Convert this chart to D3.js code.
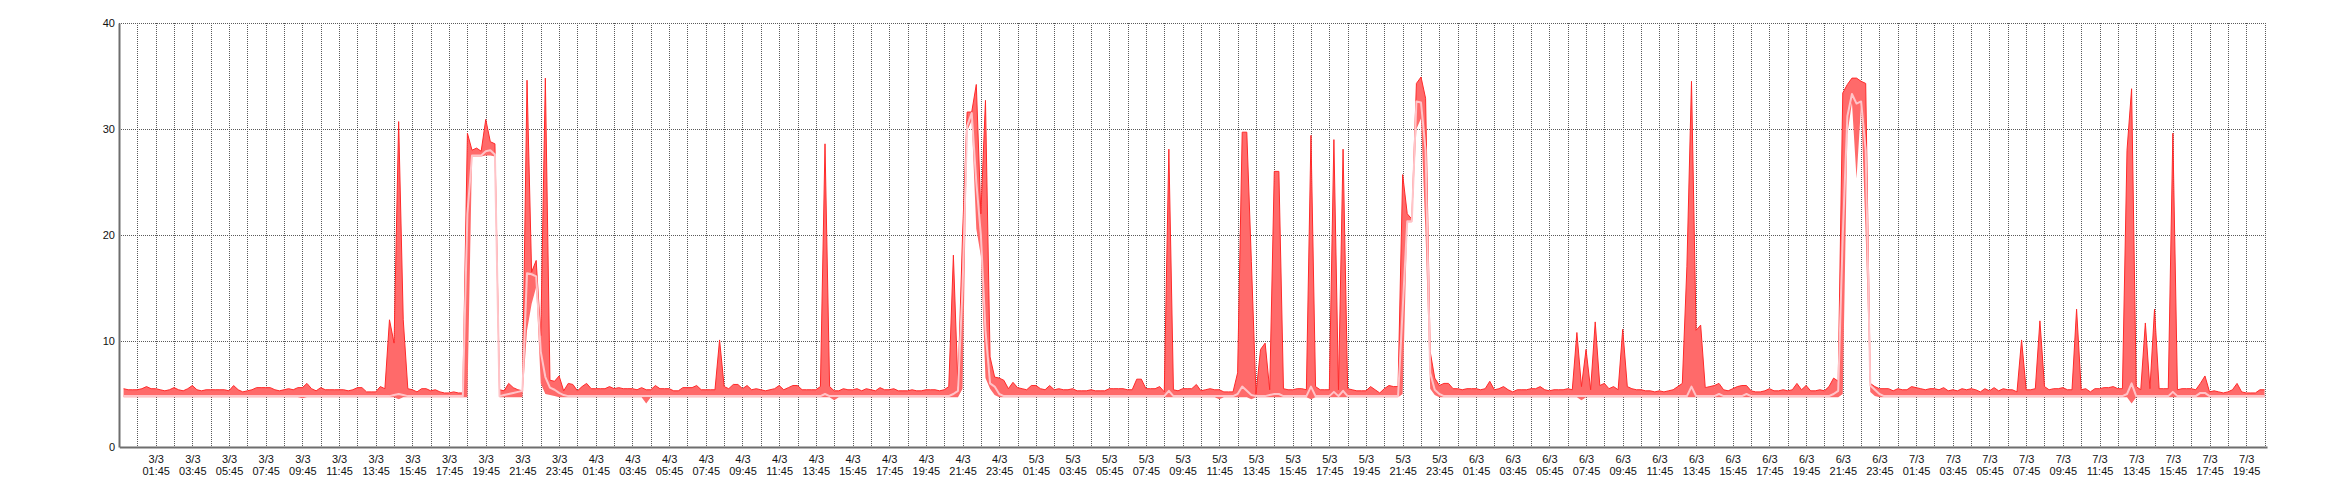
<!DOCTYPE html>
<html><head><meta charset="utf-8">
<script src="https://cdn.jsdelivr.net/npm/d3@7"></script>
<style>html,body{margin:0;padding:0;background:#fff;} svg{display:block;}</style>
</head><body><svg id="chart" width="2340" height="500"></svg>
<script>
// ---- data (15-minute samples starting 3/3 00:00) ----
const seriesStart = "2020-03-03T00:00";
const stepMinutes = 15;
const domainStart = "2020-03-02T23:46";
const domainEnd = "2020-03-07T20:53";
const yTicks = [0, 10, 20, 30, 40];

const maxVals = [
5.5,5.4,5.4,5.4,5.5,5.7,5.5,5.5,5.4,5.3,5.4,5.6,
5.4,5.3,5.5,5.8,5.4,5.3,5.4,5.4,5.4,5.4,5.4,5.3,
5.8,5.4,5.2,5.3,5.4,5.6,5.6,5.6,5.6,5.4,5.3,5.4,
5.5,5.4,5.6,5.6,6.0,5.5,5.3,5.6,5.4,5.4,5.4,5.4,
5.4,5.3,5.4,5.6,5.6,5.2,5.2,5.2,5.7,5.5,12.0,9.8,
30.7,12.0,5.5,5.4,5.2,5.5,5.5,5.3,5.4,5.2,5.1,5.1,
5.2,5.1,5.1,29.6,28.0,28.2,27.9,30.9,28.8,28.6,5.4,5.3,
6.0,5.6,5.4,5.3,34.6,16.5,17.6,10.5,34.8,6.3,6.2,6.7,
5.3,6.0,5.9,5.3,5.7,6.0,5.5,5.5,5.5,5.5,5.7,5.5,
5.6,5.5,5.5,5.5,5.4,5.6,5.4,5.4,5.8,5.5,5.5,5.5,
5.3,5.3,5.6,5.6,5.6,5.8,5.4,5.4,5.4,5.4,10.1,5.7,
5.5,5.9,5.9,5.5,5.8,5.4,5.5,5.4,5.3,5.4,5.5,5.8,
5.4,5.6,5.8,5.8,5.4,5.4,5.4,5.4,5.7,28.6,5.7,5.3,
5.3,5.5,5.4,5.4,5.5,5.3,5.5,5.4,5.3,5.6,5.4,5.4,
5.5,5.3,5.3,5.3,5.4,5.3,5.3,5.4,5.4,5.4,5.3,5.4,
5.7,18.1,5.7,20.0,31.6,31.6,34.2,22.0,32.7,8.5,6.6,6.5,
6.3,5.5,6.1,5.6,5.5,5.4,5.8,5.8,5.5,5.4,5.8,5.4,
5.5,5.4,5.4,5.5,5.3,5.3,5.3,5.4,5.3,5.3,5.3,5.5,
5.5,5.5,5.5,5.4,5.4,6.4,6.4,5.5,5.5,5.5,5.7,5.2,
28.1,5.4,5.3,5.5,5.5,5.5,5.9,5.3,5.4,5.5,5.4,5.4,
5.2,5.2,5.2,7.0,29.7,29.7,17.5,5.0,9.2,9.8,5.4,26.0,
26.0,5.5,5.4,5.4,5.5,5.5,5.4,29.4,5.7,5.4,5.4,5.4,
29.0,5.4,28.1,5.5,5.4,5.3,5.3,5.3,5.7,5.4,5.1,5.5,
5.8,5.7,5.7,25.7,22.0,21.5,34.3,34.9,32.9,9.0,6.5,5.8,
6.0,6.0,5.5,5.5,5.4,5.5,5.5,5.5,5.4,5.5,6.2,5.4,
5.5,5.7,5.4,5.2,5.4,5.4,5.4,5.5,5.5,5.7,5.4,5.3,
5.4,5.4,5.4,5.5,5.4,10.8,5.7,9.2,5.4,11.8,5.8,6.0,
5.5,5.7,5.4,11.1,5.7,5.5,5.4,5.4,5.3,5.3,5.2,5.3,
5.2,5.3,5.4,5.7,6.0,17.0,34.5,11.0,11.5,5.6,5.7,5.8,
6.0,5.4,5.3,5.5,5.7,5.8,5.8,5.3,5.2,5.2,5.3,5.5,
5.3,5.3,5.4,5.3,5.4,6.0,5.4,5.8,5.3,5.3,5.4,5.3,
5.7,6.5,6.2,33.4,34.2,34.8,34.8,34.5,34.3,6.0,5.7,5.5,
5.5,5.5,5.3,5.5,5.4,5.4,5.7,5.6,5.5,5.4,5.5,5.5,
5.4,5.6,5.3,5.4,5.3,5.5,5.4,5.5,5.4,5.2,5.5,5.3,
5.6,5.3,5.5,5.4,5.4,5.2,10.1,5.4,5.4,5.5,11.9,5.7,
5.4,5.5,5.5,5.6,5.4,5.4,13.0,5.4,5.5,5.2,5.5,5.5,
5.6,5.6,5.7,5.5,5.5,28.0,33.8,5.7,5.4,11.7,5.5,13.0,
5.5,5.5,5.5,29.6,5.4,5.5,5.5,5.5,5.4,6.0,6.7,5.2,
5.3,5.2,5.1,5.2,5.4,6.0,5.2,5.1,5.1,5.1,5.4,5.4
];

const minVals = [
4.7,4.7,4.7,4.7,4.7,4.7,4.7,4.7,4.7,4.7,4.7,4.7,
4.7,4.7,4.7,4.7,4.7,4.7,4.7,4.7,4.7,4.7,4.7,4.7,
4.7,4.7,4.7,4.7,4.7,4.7,4.7,4.7,4.7,4.7,4.7,4.7,
4.7,4.7,4.7,4.6,4.7,4.7,4.7,4.7,4.7,4.7,4.7,4.7,
4.7,4.7,4.7,4.7,4.7,4.7,4.7,4.7,4.7,4.7,4.7,4.7,
4.5,4.7,4.7,4.7,4.7,4.7,4.7,4.7,4.7,4.7,4.7,4.7,
4.7,4.7,4.7,4.7,27.4,27.4,27.4,27.5,27.5,27.4,4.7,4.7,
4.7,4.7,4.7,4.7,11.0,13.5,15.1,6.0,5.0,4.9,4.8,4.7,
4.7,4.7,4.7,4.7,4.7,4.7,4.7,4.7,4.7,4.7,4.7,4.7,
4.7,4.7,4.7,4.7,4.7,4.7,4.1,4.7,4.7,4.7,4.7,4.7,
4.7,4.7,4.7,4.7,4.7,4.7,4.7,4.7,4.7,4.7,4.7,4.7,
4.7,4.7,4.7,4.7,4.7,4.7,4.7,4.7,4.7,4.7,4.7,4.7,
4.7,4.7,4.7,4.7,4.7,4.7,4.7,4.7,4.7,4.7,4.7,4.4,
4.7,4.7,4.7,4.7,4.7,4.7,4.7,4.7,4.7,4.7,4.7,4.7,
4.7,4.7,4.7,4.7,4.7,4.7,4.7,4.7,4.7,4.7,4.7,4.7,
4.7,4.7,4.7,5.5,29.8,30.8,20.6,18.0,6.5,5.5,4.9,4.7,
4.7,4.7,4.7,4.7,4.7,4.7,4.7,4.7,4.7,4.7,4.7,4.7,
4.7,4.7,4.7,4.7,4.7,4.7,4.7,4.7,4.7,4.7,4.7,4.7,
4.7,4.7,4.7,4.7,4.7,4.7,4.7,4.7,4.7,4.7,4.7,4.7,
4.7,4.7,4.7,4.7,4.7,4.7,4.7,4.7,4.7,4.7,4.7,4.5,
4.7,4.7,4.7,4.7,4.7,4.7,4.5,4.7,4.7,4.7,4.7,4.7,
4.7,4.7,4.7,4.7,4.7,4.7,4.7,4.5,4.7,4.7,4.7,4.7,
4.7,4.7,4.7,4.7,4.7,4.7,4.7,4.7,4.7,4.7,4.7,4.7,
4.7,4.7,4.7,5.0,21.2,21.2,30.0,31.0,20.0,5.5,4.9,4.7,
4.7,4.7,4.7,4.7,4.7,4.7,4.7,4.7,4.7,4.7,4.7,4.7,
4.7,4.7,4.7,4.7,4.7,4.7,4.7,4.7,4.7,4.7,4.7,4.7,
4.7,4.7,4.7,4.7,4.7,4.7,4.4,4.7,4.7,4.7,4.7,4.7,
4.7,4.7,4.7,4.7,4.7,4.7,4.7,4.7,4.7,4.7,4.7,4.7,
4.7,4.7,4.7,4.7,4.7,4.7,4.7,4.7,4.7,4.7,4.7,4.7,
4.7,4.7,4.7,4.7,4.7,4.7,4.7,4.7,4.7,4.7,4.7,4.7,
4.7,4.7,4.7,4.7,4.7,4.7,4.7,4.7,4.7,4.7,4.7,4.7,
4.7,4.7,4.7,5.0,29.5,32.5,25.3,32.3,20.0,5.2,4.8,4.7,
4.7,4.7,4.7,4.7,4.7,4.7,4.7,4.7,4.7,4.7,4.7,4.7,
4.7,4.7,4.7,4.7,4.7,4.7,4.7,4.7,4.7,4.7,4.7,4.7,
4.7,4.7,4.7,4.7,4.7,4.7,4.7,4.7,4.7,4.7,4.7,4.7,
4.7,4.7,4.7,4.7,4.7,4.7,4.7,4.7,4.7,4.7,4.7,4.7,
4.7,4.7,4.7,4.7,4.7,4.7,4.1,4.7,4.7,4.7,4.7,4.7,
4.7,4.7,4.7,4.7,4.7,4.7,4.7,4.7,4.7,4.7,4.7,4.7,
4.7,4.7,4.7,4.7,4.7,4.7,4.7,4.7,4.7,4.7,4.7,4.7
];

const avgVals = [
4.8,4.8,4.8,4.8,4.8,4.8,4.8,4.8,4.8,4.8,4.8,4.8,
4.8,4.8,4.8,4.8,4.8,4.8,4.8,4.8,4.8,4.8,4.8,4.8,
4.8,4.8,4.8,4.8,4.8,4.8,4.8,4.8,4.8,4.8,4.8,4.8,
4.8,4.8,4.8,4.8,4.8,4.8,4.8,4.8,4.8,4.8,4.8,4.8,
4.8,4.8,4.8,4.8,4.8,4.8,4.8,4.8,4.8,4.8,4.8,4.9,
5.0,4.9,4.8,4.8,4.8,4.8,4.8,4.8,4.8,4.8,4.8,4.8,
4.8,4.8,4.8,22.0,27.5,27.5,27.5,27.9,28.0,27.6,4.8,4.9,
5.0,5.1,5.2,5.3,16.4,16.3,16.1,9.0,6.6,5.6,5.4,5.1,
4.9,4.8,4.8,4.8,4.8,4.8,4.8,4.8,4.8,4.8,4.8,4.8,
4.8,4.8,4.8,4.8,4.8,4.8,4.8,4.8,4.8,4.8,4.8,4.8,
4.8,4.8,4.8,4.8,4.8,4.8,4.8,4.8,4.8,4.8,4.8,4.8,
4.8,4.8,4.8,4.8,4.8,4.8,4.8,4.8,4.8,4.8,4.8,4.8,
4.8,4.8,4.8,4.8,4.8,4.8,4.8,4.8,4.8,5.0,4.8,4.8,
4.8,4.8,4.8,4.8,4.8,4.8,4.8,4.8,4.8,4.8,4.8,4.8,
4.8,4.8,4.8,4.8,4.8,4.8,4.8,4.8,4.8,4.8,4.8,4.8,
4.8,5.0,5.3,15.0,30.3,31.5,25.0,20.0,11.0,6.0,5.7,5.0,
4.8,4.8,4.8,4.8,4.8,4.8,4.8,4.8,4.8,4.8,4.8,4.8,
4.8,4.8,4.8,4.8,4.8,4.8,4.8,4.8,4.8,4.8,4.8,4.8,
4.8,4.8,4.8,4.8,4.8,4.8,4.8,4.8,4.8,4.8,4.8,4.8,
5.3,4.8,4.8,4.8,4.8,4.8,4.8,4.8,4.8,4.8,4.8,4.8,
4.8,4.8,4.8,5.0,5.7,5.3,4.9,4.8,4.8,4.8,4.9,5.0,
5.0,4.8,4.8,4.8,4.8,4.8,4.8,5.7,4.8,4.8,4.8,4.8,
5.2,4.8,5.3,4.8,4.8,4.8,4.8,4.8,4.8,4.8,4.8,4.8,
4.8,4.8,4.8,13.0,21.3,21.3,32.6,32.5,28.0,7.0,5.4,5.0,
4.8,4.8,4.8,4.8,4.8,4.8,4.8,4.8,4.8,4.8,4.8,4.8,
4.8,4.8,4.8,4.8,4.8,4.8,4.8,4.8,4.8,4.8,4.8,4.8,
4.8,4.8,4.8,4.8,4.8,4.8,4.8,4.8,4.8,4.8,4.8,4.8,
4.8,4.8,4.8,4.8,4.8,4.8,4.8,4.8,4.8,4.8,4.8,4.8,
4.8,4.8,4.8,4.8,4.8,4.8,5.7,4.8,4.8,4.8,4.8,4.8,
5.0,4.8,4.8,4.8,4.8,4.8,5.0,4.8,4.8,4.8,4.8,4.8,
4.8,4.8,4.8,4.8,4.8,4.8,4.8,4.8,4.8,4.8,4.8,4.8,
4.8,5.0,5.3,20.0,31.2,33.3,32.4,32.6,28.0,5.8,5.4,5.0,
4.8,4.8,4.8,4.8,4.8,4.8,4.8,4.8,4.8,4.8,4.8,4.8,
4.8,4.8,4.8,4.8,4.8,4.8,4.8,4.8,4.8,4.8,4.8,4.8,
4.8,4.8,4.8,4.8,4.8,4.8,4.8,4.8,4.8,4.8,4.8,4.8,
4.8,4.8,4.8,4.8,4.8,4.8,4.8,4.8,4.8,4.8,4.8,4.8,
4.8,4.8,4.8,4.8,4.8,5.0,6.0,4.8,4.8,4.8,4.8,4.8,
4.8,4.8,4.8,5.2,4.8,4.8,4.8,4.8,4.8,5.1,5.1,4.8,
4.8,4.8,4.8,4.8,4.8,4.8,4.8,4.8,4.8,4.8,4.8,4.8
];

// ---- build ----
(function () {
const parse = d3.utcParse("%Y-%m-%dT%H:%M");
const t0 = parse(seriesStart);
const data = maxVals.map((v, i) => ({
  t: d3.utcMinute.offset(t0, i * stepMinutes),
  max: v, min: minVals[i], avg: avgVals[i]
}));

const pL = 119.3, pR = 2267, pT = 23, pB = 447;
const x = d3.scaleUtc().domain([parse(domainStart), parse(domainEnd)]).range([pL, pR]);
const y = d3.scaleLinear().domain([0, 40]).range([pB, pT]);

const svg = d3.select("#chart");
svg.append("rect").attr("width", 2340).attr("height", 500).attr("fill", "#fff");

// hourly grid at :45
const gridTimes = d3.utcHour.range(parse("2020-03-02T23:00"), parse(domainEnd))
  .map(d => d3.utcMinute.offset(d, 45))
  .filter(d => d >= x.domain()[0] && d <= x.domain()[1] && x(d) > pL + 2);
const labelTimes = gridTimes.filter(d => d.getUTCHours() % 2 === 1);

const grid = svg.append("g").attr("shape-rendering", "crispEdges")
  .attr("stroke", "#5a5a5a").attr("stroke-width", 1).attr("stroke-dasharray", "1,1");
grid.selectAll("line.v").data(gridTimes).join("line").attr("class", "v")
  .attr("x1", d => Math.round(x(d)) + 0.5).attr("x2", d => Math.round(x(d)) + 0.5)
  .attr("y1", pT).attr("y2", pB);
grid.selectAll("line.h").data(yTicks.filter(v => v > 0)).join("line").attr("class", "h")
  .attr("x1", pL).attr("x2", pR)
  .attr("y1", d => Math.round(y(d)) + 0.5).attr("y2", d => Math.round(y(d)) + 0.5);

// band min..max
const area = d3.area().x(d => x(d.t)).y0(d => y(d.min)).y1(d => y(d.max));
svg.append("path").datum(data).attr("d", area).attr("fill", "#ff6a6a");
svg.append("path").datum(data)
  .attr("d", d3.line().x(d => x(d.t)).y(d => y(d.max)))
  .attr("fill", "none").attr("stroke", "#ff2a2a").attr("stroke-width", 1);
svg.append("path").datum(data)
  .attr("d", d3.line().x(d => x(d.t)).y(d => y(d.avg)))
  .attr("fill", "none").attr("stroke", "#ffc4c8").attr("stroke-width", 2)
  .attr("stroke-linejoin", "round");

// axes
const font = "'Liberation Sans', Arial, sans-serif";
const yAxis = svg.append("g").attr("transform", "translate(119,0)")
  .call(d3.axisLeft(y).tickValues(yTicks).tickSize(0).tickSizeOuter(0).tickPadding(4));
yAxis.select(".domain").attr("stroke", "#6e6e6e").attr("stroke-width", 2);
yAxis.selectAll("text").attr("font-family", font).attr("font-size", 11).attr("fill", "#111");

const xAxis = svg.append("g").attr("transform", `translate(0,${pB})`)
  .call(d3.axisBottom(x).tickValues(labelTimes).tickSize(0).tickSizeOuter(0).tickFormat(""));
xAxis.select(".domain").attr("stroke", "#6e6e6e").attr("stroke-width", 2);
const fDay = d3.utcFormat("%-d/%-m"), fTime = d3.utcFormat("%H:%M");
xAxis.selectAll(".tick text").each(function (d) {
  const t = d3.select(this).attr("y", null).attr("dy", null)
    .attr("font-family", font).attr("font-size", 11).attr("fill", "#111")
    .attr("text-anchor", "middle");
  t.append("tspan").attr("x", 0).attr("y", 16).text(fDay(d));
  t.append("tspan").attr("x", 0).attr("y", 28).text(fTime(d));
});
})();
</script>
</body></html>
